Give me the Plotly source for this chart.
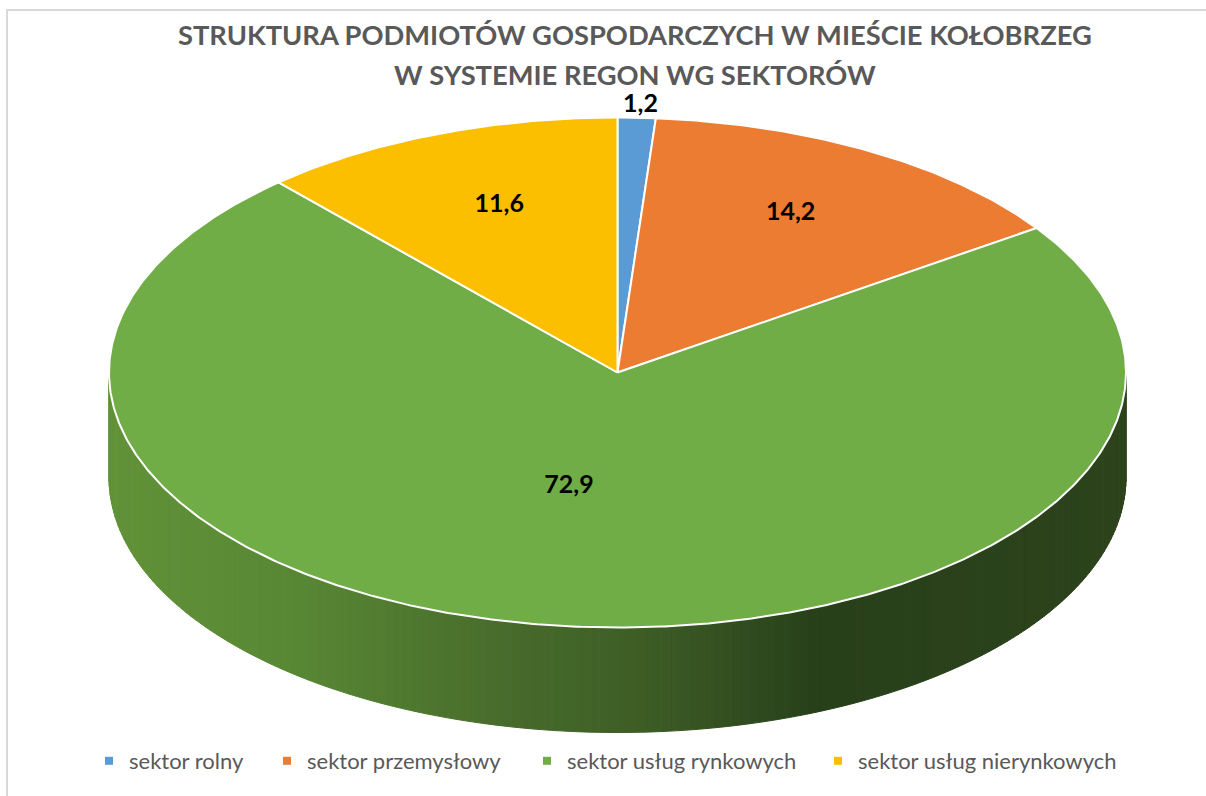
import numpy as np
import plotly.graph_objects as go

# ---- data ----
categories = ["sektor rolny", "sektor przemysłowy", "sektor usług rynkowych", "sektor usług nierynkowych"]
values = [1.2, 14.2, 72.9, 11.6]
value_labels = ["1,2", "14,2", "72,9", "11,6"]
title_lines = ["STRUKTURA PODMIOTÓW GOSPODARCZYCH W MIEŚCIE KOŁOBRZEG", "W SYSTEMIE REGON WG SEKTORÓW"]

# ---- styling ----
colors = ["#5B9BD5", "#EC7C31", "#70AD47", "#FCBF00"]
FONT = "Lato, Carlito, sans-serif"
CX, CY, RX, RY, DEPTH = 617.5, 372.5, 508.5, 255, 105
label_factor = [(1.2, 1.047), (0.683, 0.72), (0.8, 0.453), (0.652, 0.70)]
legend_text_x = [129, 307, 567, 858]
title_y = [34, 74]
grad_x = [109, 300, 500, 650, 815, 1126]
grad_rgb = [(97, 146, 56), (88, 135, 52), (72, 108, 44), (60, 92, 37), (40, 64, 26), (44, 67, 28)]


def ell(theta):
    return CX + RX * np.sin(theta), CY - RY * np.cos(theta)


fig = go.Figure()

# side wall of the disc, drawn as thin bands so it can carry a horizontal gradient
edges = np.linspace(np.pi / 2, 3 * np.pi / 2, 181)
for a, b in zip(edges[:-1], edges[1:]):
    t = np.linspace(a, b, 3)
    x, y = ell(t)
    xx = np.r_[x, x[::-1], x[0]]
    yy = np.r_[y, y[::-1] + DEPTH, y[0]]
    xm = x.mean()
    rgb = [int(round(np.interp(xm, grad_x, [c[i] for c in grad_rgb]))) for i in range(3)]
    col = f"rgb({rgb[0]},{rgb[1]},{rgb[2]})"
    fig.add_trace(go.Scatter(x=xx, y=yy, mode="lines", fill="toself", fillcolor=col,
                             line=dict(color=col, width=1), showlegend=False, hoverinfo="skip"))

# top face slices, angles derived from the values
total = sum(values)
start = 0.0
for i, (name, v) in enumerate(zip(categories, values)):
    a0 = start / total * 2 * np.pi
    a1 = (start + v) / total * 2 * np.pi
    t = np.linspace(a0, a1, max(int(v * 8), 12))
    x, y = ell(t)
    fig.add_trace(go.Scatter(x=np.r_[CX, x, CX], y=np.r_[CY, y, CY], mode="lines", fill="toself",
                             fillcolor=colors[i], line=dict(color="white", width=2),
                             showlegend=False, name=name, hoverinfo="name"))
    start += v

# data labels
start = 0.0
for i, v in enumerate(values):
    mid = (start + v / 2) / total * 2 * np.pi
    fx, fy = label_factor[i]
    fig.add_trace(go.Scatter(x=[CX + fx * RX * np.sin(mid)], y=[CY - fy * RY * np.cos(mid)], mode="text",
                             text=[value_labels[i]], textposition="middle center",
                             textfont=dict(family=FONT, size=25, color="black", weight="bold"),
                             showlegend=False, hoverinfo="skip"))
    start += v

# legend: one native legend per entry so the spacing can follow the reference
legends = {}
for i, name in enumerate(categories):
    key = "legend" if i == 0 else f"legend{i + 1}"
    fig.add_trace(go.Scatter(x=[None], y=[None], mode="markers", name=name, legend=key,
                             marker=dict(symbol="square", size=8, color=colors[i])))
    legends[key] = dict(x=(legend_text_x[i] - 40) / 1206, y=1 - 761 / 796, xanchor="left", yanchor="middle",
                        bgcolor="rgba(0,0,0,0)", font=dict(family=FONT, size=22, color="#595959"))

fig.update_layout(
    width=1206, height=796, margin=dict(l=0, r=0, t=0, b=0),
    paper_bgcolor="white", plot_bgcolor="white",
    xaxis=dict(range=[0, 1206], visible=False, fixedrange=True),
    yaxis=dict(range=[796, 0], visible=False, fixedrange=True),
    shapes=[dict(type="rect", xref="paper", yref="paper", x0=7 / 1206, x1=1.01, y0=-0.01, y1=1 - 10 / 796,
                 line=dict(color="#D9D9D9", width=2), fillcolor="rgba(0,0,0,0)", layer="below")],
    annotations=[dict(text=line, x=635 / 1206, y=1 - yy / 796, xref="paper", yref="paper",
                      xanchor="center", yanchor="middle", showarrow=False, align="center",
                      font=dict(family=FONT, size=27.3, color="#595959", weight="bold"))
                 for line, yy in zip(title_lines, title_y)],
    **legends,
)

fig.write_html("out.html", config={"displayModeBar": False},
               post_script="document.body.style.margin='0';document.body.style.overflow='hidden';")
